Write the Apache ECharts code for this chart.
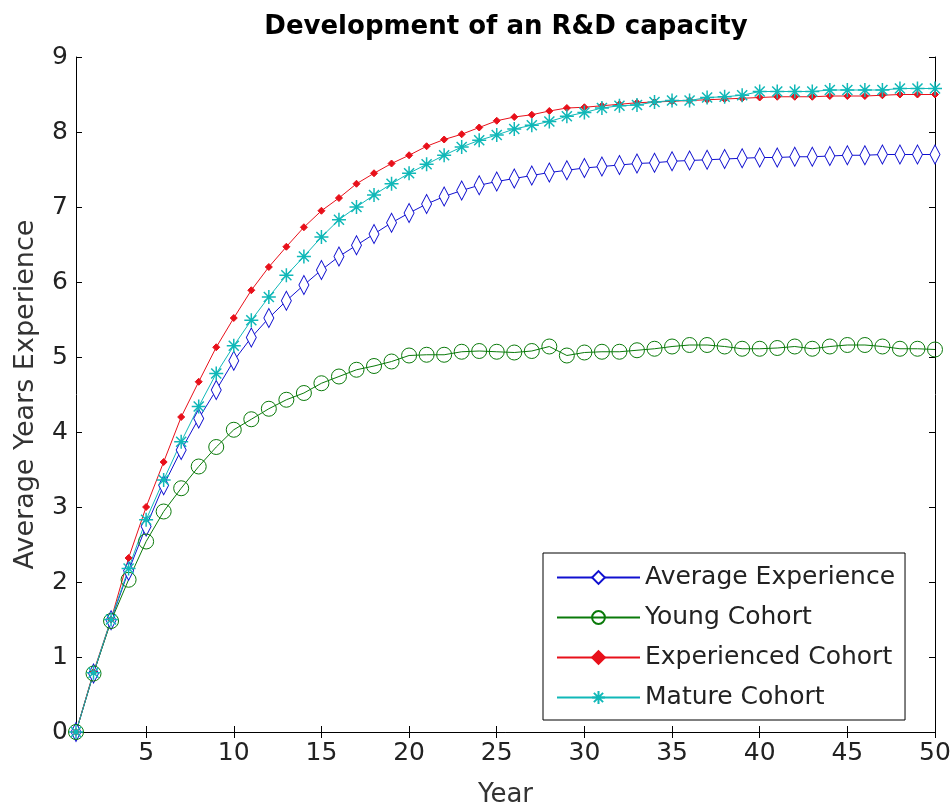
<!DOCTYPE html>
<html>
<head>
<meta charset="utf-8">
<script src="https://cdn.jsdelivr.net/npm/echarts@6/dist/echarts.min.js"></script>
<style>
  html, body { margin: 0; padding: 0; background: #fff; }
  #main { width: 951px; height: 805px; }
</style>
</head>
<body>
<div id="main"></div>
<script>
var years = [1, 2, 3, 4, 5, 6, 7, 8, 9, 10, 11, 12, 13, 14, 15, 16, 17, 18, 19, 20,
  21, 22, 23, 24, 25, 26, 27, 28, 29, 30, 31, 32, 33, 34, 35, 36, 37, 38, 39, 40,
  41, 42, 43, 44, 45, 46, 47, 48, 49, 50];
var xTicks = [5, 10, 15, 20, 25, 30, 35, 40, 45, 50];

var averageExp = [0, 0.78, 1.49, 2.15, 2.74, 3.29, 3.76, 4.18, 4.56, 4.95,
  5.26, 5.52, 5.75, 5.96, 6.16, 6.34, 6.49, 6.64, 6.79, 6.92,
  7.04, 7.14, 7.22, 7.29, 7.34, 7.38, 7.42, 7.46, 7.49, 7.52,
  7.54, 7.56, 7.58, 7.59, 7.61, 7.62, 7.63, 7.64, 7.65, 7.66,
  7.66, 7.67, 7.67, 7.68, 7.69, 7.69, 7.7, 7.7, 7.7, 7.7];
var youngCohort = [0, 0.78, 1.48, 2.03, 2.54, 2.94, 3.25, 3.54, 3.8, 4.03,
  4.17, 4.31, 4.43, 4.52, 4.65, 4.74, 4.83, 4.88, 4.94, 5.02,
  5.03, 5.03, 5.07, 5.08, 5.07, 5.06, 5.08, 5.14, 5.02, 5.06,
  5.07, 5.07, 5.09, 5.11, 5.14, 5.16, 5.16, 5.14, 5.11, 5.11,
  5.12, 5.14, 5.11, 5.14, 5.16, 5.16, 5.14, 5.11, 5.11, 5.1];
var experiencedCohort = [0, 0.8, 1.5, 2.32, 3.0, 3.6, 4.2, 4.67, 5.13, 5.52,
  5.89, 6.2, 6.47, 6.73, 6.95, 7.12, 7.31, 7.45, 7.58, 7.69,
  7.81, 7.9, 7.97, 8.06, 8.15, 8.2, 8.23, 8.28, 8.32, 8.33,
  8.35, 8.37, 8.39, 8.4, 8.41, 8.42, 8.43, 8.44, 8.45, 8.46,
  8.47, 8.47, 8.47, 8.48, 8.48, 8.48, 8.49, 8.5, 8.5, 8.5];
var matureCohort = [0, 0.79, 1.5, 2.18, 2.83, 3.36, 3.87, 4.34, 4.78, 5.15,
  5.49, 5.8, 6.09, 6.34, 6.6, 6.83, 7.0, 7.16, 7.31, 7.45,
  7.57, 7.69, 7.8, 7.89, 7.96, 8.04, 8.09, 8.14, 8.21, 8.26,
  8.32, 8.35, 8.36, 8.4, 8.42, 8.42, 8.46, 8.47, 8.49, 8.54,
  8.54, 8.54, 8.54, 8.56, 8.56, 8.56, 8.56, 8.58, 8.58, 8.58];

function pairs(vals) {
  return years.map(function (y, i) { return [y, vals[i]]; });
}

var font = 'DejaVu Sans, sans-serif';
var asterisk = 'path://M0,-5L0,5M-5,0L5,0M-3.6,-3.6L3.6,3.6M-3.6,3.6L3.6,-3.6';

var chart = echarts.init(document.getElementById('main'));
chart.setOption({
  animation: false,
  backgroundColor: '#fff',
  textStyle: { fontFamily: font },
  title: {
    text: 'Development of an R&D capacity',
    left: 501,
    textAlign: 'center',
    top: 9,
    textStyle: { fontSize: 26, fontWeight: 'bold', color: '#000', fontFamily: font }
  },
  grid: { left: 76, right: 16, top: 57, bottom: 73, show: false, outerBoundsMode: 'none', containLabel: false },
  legend: {
    orient: 'vertical',
    left: 543,
    top: 553,
    backgroundColor: '#fff',
    borderColor: '#000',
    borderWidth: 1,
    padding: [12, 10, 10, 13],
    itemWidth: 83,
    itemHeight: 16,
    itemGap: 15,
    textStyle: { fontSize: 25, color: '#222', fontFamily: font },
    data: ['Average Experience', 'Young Cohort', 'Experienced Cohort', 'Mature Cohort']
  },
  xAxis: [{
    type: 'value',
    min: 1,
    max: 50,
    position: 'bottom',
    name: 'Year',
    nameLocation: 'middle',
    nameGap: 50,
    nameTextStyle: { fontSize: 26, color: '#333' },
    axisLine: { show: true, lineStyle: { color: '#000', width: 1 } },
    axisTick: { show: true, inside: true, length: 6, customValues: xTicks, lineStyle: { color: '#000' } },
    axisLabel: { customValues: xTicks, fontSize: 25, color: '#222', margin: 9 },
    splitLine: { show: false }
  }, {
    type: 'value',
    min: 1,
    max: 50,
    position: 'top',
    axisLine: { show: true, lineStyle: { color: '#000', width: 1 } },
    axisTick: { show: true, inside: true, length: 6, customValues: xTicks, lineStyle: { color: '#000' } },
    axisLabel: { show: false },
    splitLine: { show: false }
  }],
  yAxis: [{
    type: 'value',
    min: 0,
    max: 9,
    interval: 1,
    position: 'left',
    name: 'Average Years Experience',
    nameLocation: 'middle',
    nameGap: 37,
    nameTextStyle: { fontSize: 27, color: '#333' },
    axisLine: { show: true, lineStyle: { color: '#000', width: 1 } },
    axisTick: { show: true, inside: true, length: 6, lineStyle: { color: '#000' } },
    axisLabel: { fontSize: 25, color: '#222', margin: 8 },
    splitLine: { show: false }
  }, {
    type: 'value',
    min: 0,
    max: 9,
    interval: 1,
    position: 'right',
    axisLine: { show: true, lineStyle: { color: '#000', width: 1 } },
    axisTick: { show: true, inside: true, length: 6, lineStyle: { color: '#000' } },
    axisLabel: { show: false },
    splitLine: { show: false }
  }],
  series: [{
    name: 'Average Experience',
    type: 'line',
    data: pairs(averageExp),
    symbol: 'diamond',
    symbolSize: [10, 19],
    showAllSymbol: true,
    lineStyle: { color: '#1010d0', width: 1 },
    itemStyle: { color: '#fff', borderColor: '#1010d0', borderWidth: 1 },
    emphasis: { disabled: true }
  }, {
    name: 'Young Cohort',
    type: 'line',
    data: pairs(youngCohort),
    symbol: 'circle',
    symbolSize: 15,
    showAllSymbol: true,
    lineStyle: { color: '#0a7a0a', width: 1 },
    itemStyle: { color: 'rgba(255,255,255,0)', borderColor: '#0a7a0a', borderWidth: 1 },
    emphasis: { disabled: true }
  }, {
    name: 'Experienced Cohort',
    type: 'line',
    data: pairs(experiencedCohort),
    symbol: 'diamond',
    symbolSize: 7,
    showAllSymbol: true,
    lineStyle: { color: '#e8101a', width: 1 },
    itemStyle: { color: '#e8101a', borderColor: '#e8101a', borderWidth: 1 },
    emphasis: { disabled: true }
  }, {
    name: 'Mature Cohort',
    type: 'line',
    data: pairs(matureCohort),
    symbol: asterisk,
    symbolSize: 14,
    showAllSymbol: true,
    lineStyle: { color: '#10b8b8', width: 1 },
    itemStyle: { color: '#10b8b8', borderColor: '#10b8b8', borderWidth: 1.5 },
    emphasis: { disabled: true }
  }]
});
</script>
</body>
</html>
